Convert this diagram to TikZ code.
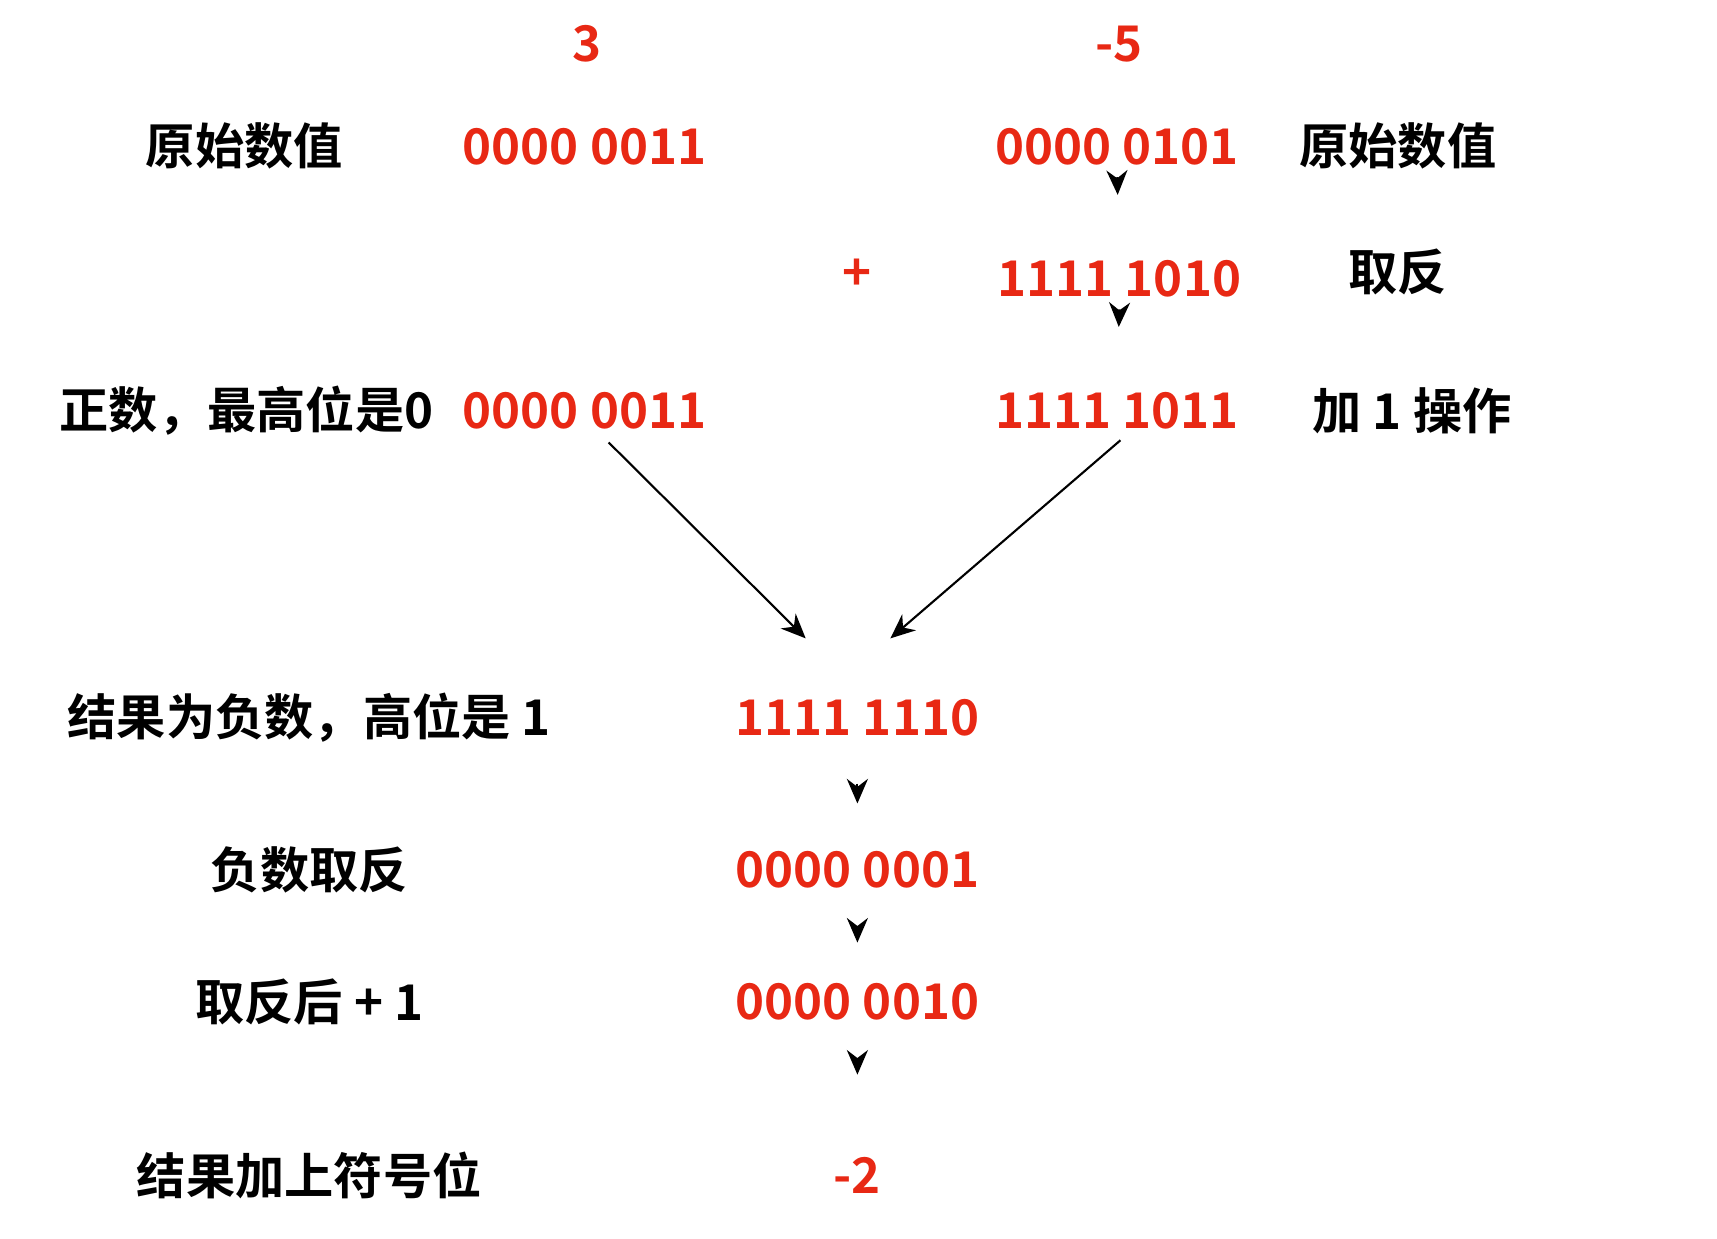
\documentclass[tikz,border=0pt]{standalone}
\usepackage{fontspec}
\usetikzlibrary{arrows.meta}
\setmainfont{Noto Sans CJK SC}[BoldFont={Noto Sans CJK SC Bold}]
\definecolor{numred}{RGB}{232,40,20}
\tikzset{
  lbl/.style={font=\bfseries\fontsize{14}{16}\selectfont},
  num/.style={lbl, text=numred},
  arr/.style={-{Stealth[length=7pt,width=6pt]}, semithick}
}
\begin{document}
\begin{tikzpicture}[x=0.011006cm, y=-0.011006cm]
        \useasboundingbox (0,0) rectangle (1560,1125);
        % top row
        \node[num] (a) at (533,40) {3};
        \node[num] (b) at (1017,40) {-5};
        \node[lbl] (l1) at (222,133) {原始数值};
        \node[num] (a1) at (531,133) {0000 0011};
        \node[num] (b1) at (1015,133) {0000 0101};
        \node[lbl] (r1) at (1270,133) {原始数值};
        \node[num] (plus) at (779,250) {+};
        \node[num] (b2) at (1017,253) {1111 1010};
        \node[lbl] (r2) at (1270,247) {取反};
        \node[lbl] (l3) at (224,373) {正数，最高位是0};
        \node[num] (a3) at (531,373) {0000 0011};
        \node[num] (b3) at (1015,373) {1111 1011};
        \node[lbl] (r3) at (1283,373) {加 1 操作};
        % result column
        \node[lbl] (l4) at (281,652) {结果为负数，高位是 1};
        \node[num] (c1) at (779,652) {1111 1110};
        \node[lbl] (l5) at (281,790) {负数取反};
        \node[num] (c2) at (779,790) {0000 0001};
        \node[lbl] (l6) at (281,910) {取反后 + 1};
        \node[num] (c3) at (779,910) {0000 0010};
        \node[lbl] (l7) at (281,1068) {结果加上符号位};
        \node[num] (c4) at (779,1068) {-2};
        % arrows
        \coordinate (da) at (553,402);
        \coordinate (ea) at (732,580);
        \coordinate (db) at (1018,400);
        \coordinate (eb) at (809,580);
        \draw[arr] (da) -- (ea);
        \draw[arr] (db) -- (eb);
        \draw[arr, shorten >=15pt] (b1.south) -- (b2.north);
        \draw[arr, shorten >=15pt] (b2.south) -- (b3.north);
        \draw[arr, shorten <=10pt, shorten >=10pt] (c1.south) -- (c2.north);
        \draw[arr, shorten <=10pt, shorten >=8pt] (c2.south) -- (c3.north);
        \draw[arr, shorten <=10pt, shorten >=20pt] (c3.south) -- (c4.north);
\end{tikzpicture}
\end{document}
